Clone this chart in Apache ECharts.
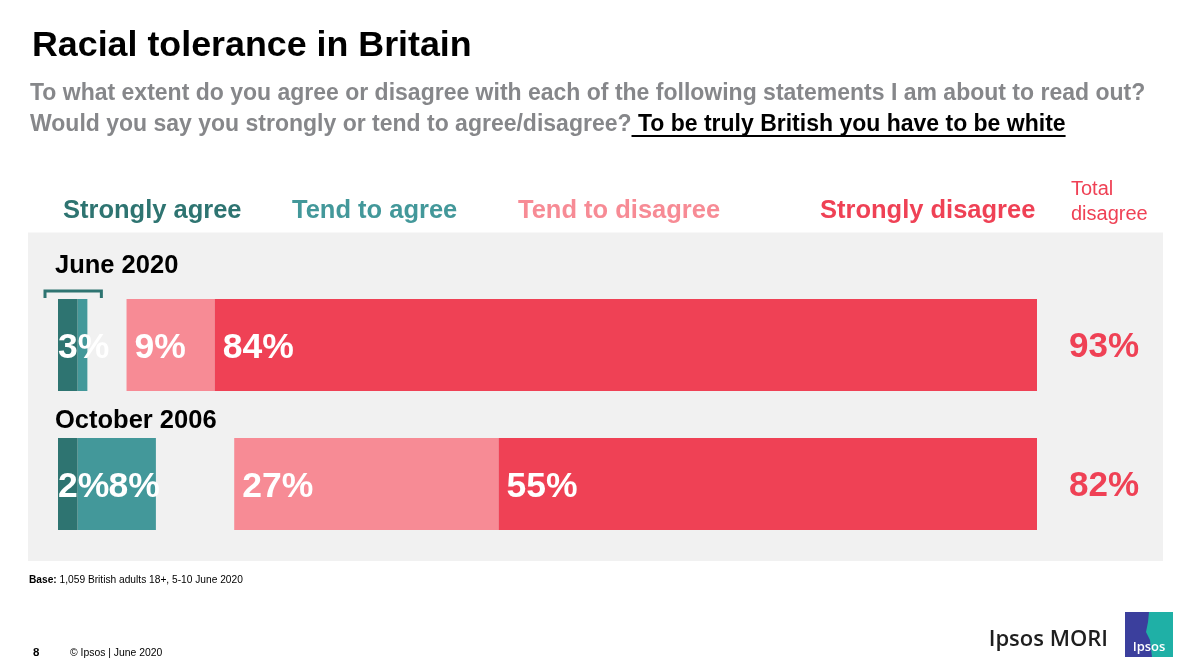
<!DOCTYPE html>
<html>
<head>
<meta charset="utf-8">
<script src="https://cdn.jsdelivr.net/npm/echarts@6/dist/echarts.min.js"></script>
<style>
html,body{margin:0;padding:0;background:#fff;}
#chart{width:1200px;height:665px;}
</style>
</head>
<body>
<div id="chart"></div>
<script>
// ---- data ----
const categories = ['June 2020', 'October 2006'];
const seriesNames = ['Strongly agree', 'Tend to agree', "Don't know", 'Tend to disagree', 'Strongly disagree'];
const stronglyAgree = [2, 2];
const tendToAgree = [1, 8];
const dontKnow = [4, 8];
const tendToDisagree = [9, 27];
const stronglyDisagree = [84, 55];

const C_SA = '#2e7471', C_TA = '#43989a', C_TD = '#f78b95', C_SD = '#ef4155';
const FONT = '"Liberation Sans", Arial, sans-serif';

function measure(text, font) {
  const c = document.createElement('canvas').getContext('2d');
  c.font = font;
  return c.measureText(text).width;
}

const chart = echarts.init(document.getElementById('chart'), null, {renderer: 'canvas'});

const barLabelBase = {show: true, color: '#fff', fontFamily: FONT, fontWeight: 'bold', fontSize: 35.5, offset: [0, 3]};

const option = {
  backgroundColor: '#fff',
  animation: false,
  grid: {left: 58, right: 163, top: 275.5, height: 278, containLabel: false},
  xAxis: {type: 'value', min: 0, max: 100, show: false},
  yAxis: {type: 'category', data: categories, inverse: true, show: false},
  series: [
    {
      name: seriesNames[0], type: 'bar', stack: 'all', barWidth: 92, data: stronglyAgree,
      itemStyle: {color: C_SA}, z: 3,
      label: Object.assign({}, barLabelBase, {
        position: 'insideLeft', distance: 0,
        formatter: p => (p.dataIndex === 0 ? (stronglyAgree[0] + tendToAgree[0]) : p.value) + '%'
      })
    },
    {
      name: seriesNames[1], type: 'bar', stack: 'all', barWidth: 92, data: tendToAgree,
      itemStyle: {color: C_TA}, z: 2,
      label: Object.assign({}, barLabelBase, {
        position: [31, '50%'], align: 'left', verticalAlign: 'middle',
        formatter: p => (p.dataIndex === 0 ? '' : p.value + '%')
      })
    },
    {
      name: seriesNames[2], type: 'bar', stack: 'all', barWidth: 92, data: dontKnow,
      itemStyle: {color: 'rgba(0,0,0,0)'}, label: {show: false}, silent: true
    },
    {
      name: seriesNames[3], type: 'bar', stack: 'all', barWidth: 92, data: tendToDisagree,
      itemStyle: {color: C_TD},
      label: Object.assign({}, barLabelBase, {position: 'insideLeft', distance: 8, formatter: '{c}%'})
    },
    {
      name: seriesNames[4], type: 'bar', stack: 'all', barWidth: 92, data: stronglyDisagree,
      itemStyle: {color: C_SD},
      label: Object.assign({}, barLabelBase, {position: 'insideLeft', distance: 8, formatter: '{c}%'})
    }
  ]
};
chart.setOption(option);

// ---- annotation graphics ----
const els = [];
// gray panel
els.push({type: 'rect', z: -10, shape: {x: 28, y: 232.5, width: 1135, height: 328.5}, style: {fill: '#f1f1f1'}});

// title
els.push({type: 'text', x: 32, y: 46, style: {text: 'Racial tolerance in Britain', font: 'bold 35.8px ' + FONT, fill: '#000', verticalAlign: 'middle'}});

// question
const qFont = 'bold 23px ' + FONT;
els.push({type: 'text', x: 30, y: 94, style: {text: 'To what extent do you agree or disagree with each of the following statements I am about to read out?', font: qFont, fill: '#86878a', verticalAlign: 'middle'}});
const q2a = 'Would you say you strongly or tend to agree/disagree?';
const q2b = ' To be truly British you have to be white';
const wA = measure(q2a, qFont), wB = measure(q2b, qFont);
els.push({type: 'text', x: 30, y: 125, style: {text: q2a, font: qFont, fill: '#86878a', verticalAlign: 'middle'}});
els.push({type: 'text', x: 30 + wA, y: 125, style: {text: q2b, font: qFont, fill: '#000', verticalAlign: 'middle'}});
els.push({type: 'line', shape: {x1: 30 + wA, y1: 136, x2: 30 + wA + wB, y2: 136}, style: {stroke: '#000', lineWidth: 2}});

// column headers
const hFont = 'bold 25.5px ' + FONT;
const headers = [
  {t: seriesNames[0], x: 63, c: C_SA},
  {t: seriesNames[1], x: 292, c: C_TA},
  {t: seriesNames[3], x: 518, c: C_TD},
  {t: seriesNames[4], x: 820, c: C_SD}
];
headers.forEach(h => els.push({type: 'text', x: h.x, y: 211, style: {text: h.t, font: hFont, fill: h.c, verticalAlign: 'middle'}}));
els.push({type: 'text', x: 1071, y: 189, style: {text: 'Total', font: '20px ' + FONT, fill: C_SD, verticalAlign: 'middle'}});
els.push({type: 'text', x: 1071, y: 214, style: {text: 'disagree', font: '20px ' + FONT, fill: C_SD, verticalAlign: 'middle'}});

// category labels and totals
const catLabelY = [266, 421];
categories.forEach((cat, i) => {
  const yc = chart.convertToPixel({yAxisIndex: 0}, cat);
  els.push({type: 'text', x: 55, y: catLabelY[i], style: {text: cat, font: 'bold 25.5px ' + FONT, fill: '#000', verticalAlign: 'middle'}});
  const total = tendToDisagree[i] + stronglyDisagree[i];
  els.push({type: 'text', x: 1104, y: yc + 2, style: {text: total + '%', font: 'bold 35px ' + FONT, fill: C_SD, align: 'center', verticalAlign: 'middle'}});
});

// bracket over June agree bars
{
  const yc = chart.convertToPixel({yAxisIndex: 0}, categories[0]);
  const x0 = chart.convertToPixel({xAxisIndex: 0}, 0) - 13;
  const x1 = chart.convertToPixel({xAxisIndex: 0}, stronglyAgree[0] + tendToAgree[0]) + 14;
  const yt = yc - 54;
  els.push({type: 'polyline', shape: {points: [[x0, yt + 7], [x0, yt], [x1, yt], [x1, yt + 7]]}, style: {stroke: C_SA, lineWidth: 3, fill: null}});
}

// footer
els.push({type: 'text', x: 29, y: 580, style: {text: '{b|Base:} 1,059 British adults 18+, 5-10 June 2020', font: '10.2px ' + FONT, fill: '#000', verticalAlign: 'middle', rich: {b: {fontWeight: 'bold', fontSize: 10.2, fontFamily: FONT}}}});
els.push({type: 'text', x: 33, y: 653, style: {text: '8', font: 'bold 11.5px ' + FONT, fill: '#000', verticalAlign: 'middle'}});
els.push({type: 'text', x: 70, y: 653, style: {text: '© Ipsos | June 2020', font: '10.4px ' + FONT, fill: '#000', verticalAlign: 'middle'}});
els.push({type: 'text', x: 1108, y: 640, style: {text: 'Ipsos MORI', font: '600 22px "Open Sans", sans-serif', fill: '#1e1e1e', align: 'right', verticalAlign: 'middle'}});
// logo
els.push({type: 'rect', shape: {x: 1125, y: 612, width: 48, height: 45}, style: {fill: '#3b3f9d'}});
els.push({type: 'polygon', shape: {points: [[1149, 612], [1173, 612], [1173, 657], [1152, 657], [1150, 640], [1146, 632], [1148, 622]]}, style: {fill: '#1fb0a6'}});
els.push({type: 'text', x: 1149, y: 647, style: {text: 'Ipsos', font: '600 13px "Open Sans", sans-serif', fill: '#fff', align: 'center', verticalAlign: 'middle'}});

chart.setOption({graphic: {elements: els}});
</script>
</body>
</html>
